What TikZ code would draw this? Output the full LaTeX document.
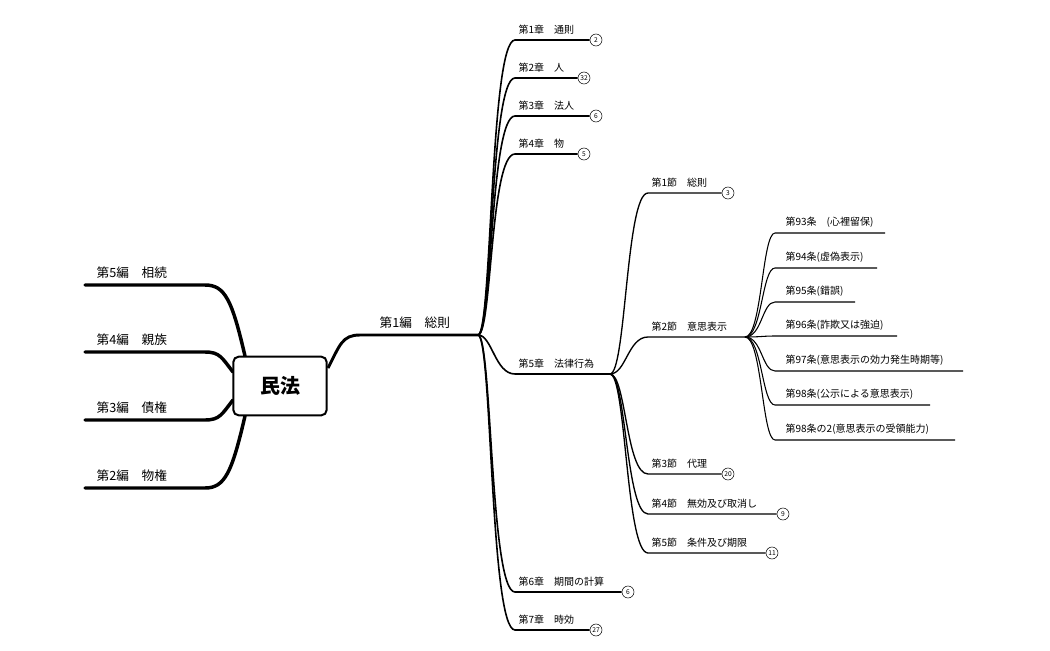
\documentclass[tikz,border=0pt]{standalone}
\usepackage{fontspec}
\setmainfont{Noto Sans CJK JP}
\begin{document}
\begin{tikzpicture}[x=0.75pt,y=-0.75pt,
  lbl/.style={anchor=south west,inner sep=1pt,font=\fontsize{7.5}{9}\selectfont},
  big/.style={anchor=south west,inner sep=1pt,font=\fontsize{9.5}{11}\selectfont},
  cnt/.style={draw,circle,inner sep=0pt,minimum size=9pt,font=\fontsize{5}{5}\selectfont,fill=white},
  hen/.style={line width=2.6pt,line cap=round},
  sho/.style={line width=1.2pt},
  setu/.style={line width=1pt},
  jo/.style={line width=0.8pt}]
\useasboundingbox (0,0) rectangle (1050,650);
% left
\foreach \k/\tx/\yy in {5/相続/285,4/親族/352,3/債権/420,2/物権/488}{
  \coordinate (L\k) at (85,\yy);
  \coordinate (M\k) at (205,\yy);
  \node[big] (T\k) at (95,\yy-5) {第{\k}編　{\tx}};
}
\coordinate (r5) at (245,356);
\coordinate (r4) at (233,372);
\coordinate (r3) at (233,400);
\coordinate (r2) at (245,416);
\draw[hen] (r5) .. controls (232,300) and (225,285) .. (M5) -- (L5);
\draw[hen] (r4) .. controls (222,358) and (220,352) .. (M4) -- (L4);
\draw[hen] (r3) .. controls (222,414) and (220,420) .. (M3) -- (L3);
\draw[hen] (r2) .. controls (232,472) and (225,488) .. (M2) -- (L2);
% root
\node[draw,line width=1.5pt,rounded corners=4pt,minimum width=70pt,minimum height=44pt,font=\fontsize{15}{15}\selectfont\bfseries,fill=white] (root) at (280,386) {民法};
% right 編1
\coordinate (r1) at (328,368);
\coordinate (B1s) at (360,335);
\coordinate (B1e) at (478,335);
\node[big] (T1) at (378,330) {第1編　総則};
\draw[line width=2.2pt] (r1) .. controls (340,345) and (342,335) .. (B1s) -- (B1e);
% chapters
\foreach \k/\tx/\yy/\ee/\cn in {1/通則/40/596/2,2/人/78/584/32,3/法人/116/596/6,4/物/154/584/5,6/期間の計算/592/628/6,7/時効/630/596/27}{
  \coordinate (C\k) at (515,\yy);
  \node[cnt] (N\k) at (\ee,\yy) {\cn};
  \node[lbl] (CT\k) at (517,\yy-4) {第{\k}章　{\tx}};
  \draw[sho] (B1e) .. controls (492,335) and (490,\yy) .. (C\k) -- (N\k);
}
\coordinate (C5) at (515,374);
\coordinate (C5e) at (610,374);
\node[lbl] (CT5) at (517,370) {第5章　法律行為};
\draw[sho] (B1e) .. controls (492,335) and (495,374) .. (C5) -- (C5e);
% sections
\foreach \k/\tx/\yy/\ee/\cn in {1/総則/193/728/3,3/代理/474/728/20,4/無効及び取消し/514/783/9,5/条件及び期限/553/772/11}{
  \coordinate (S\k) at (648,\yy);
  \node[cnt] (SN\k) at (\ee,\yy) {\cn};
  \node[lbl] (ST\k) at (650,\yy-4) {第{\k}節　{\tx}};
  \draw[setu] (C5e) .. controls (626,374) and (626,\yy) .. (S\k) -- (SN\k);
}
\coordinate (S2) at (648,337);
\coordinate (S2e) at (745,337);
\node[lbl] (ST2) at (650,333) {第2節　意思表示};
\draw[setu] (C5e) .. controls (626,374) and (628,337) .. (S2) -- (S2e);
% articles
\foreach \k/\tx/\yy/\ee in {a/第93条　(心裡留保)/233/885,b/第94条(虚偽表示)/268/877,c/第95条(錯誤)/302/855,d/第96条(詐欺又は強迫)/336/897,e/第97条(意思表示の効力発生時期等)/371/963,f/第98条(公示による意思表示)/405/930,g/第98条の2(意思表示の受領能力)/440/955}{
  \coordinate (A\k) at (775,\yy);
  \coordinate (AE\k) at (\ee,\yy);
  \node[lbl] (AT\k) at (784,\yy-4) {{\tx}};
  \draw[jo] (S2e) .. controls (762,337) and (762,\yy) .. (A\k) -- (AE\k);
}
\end{tikzpicture}
\end{document}
